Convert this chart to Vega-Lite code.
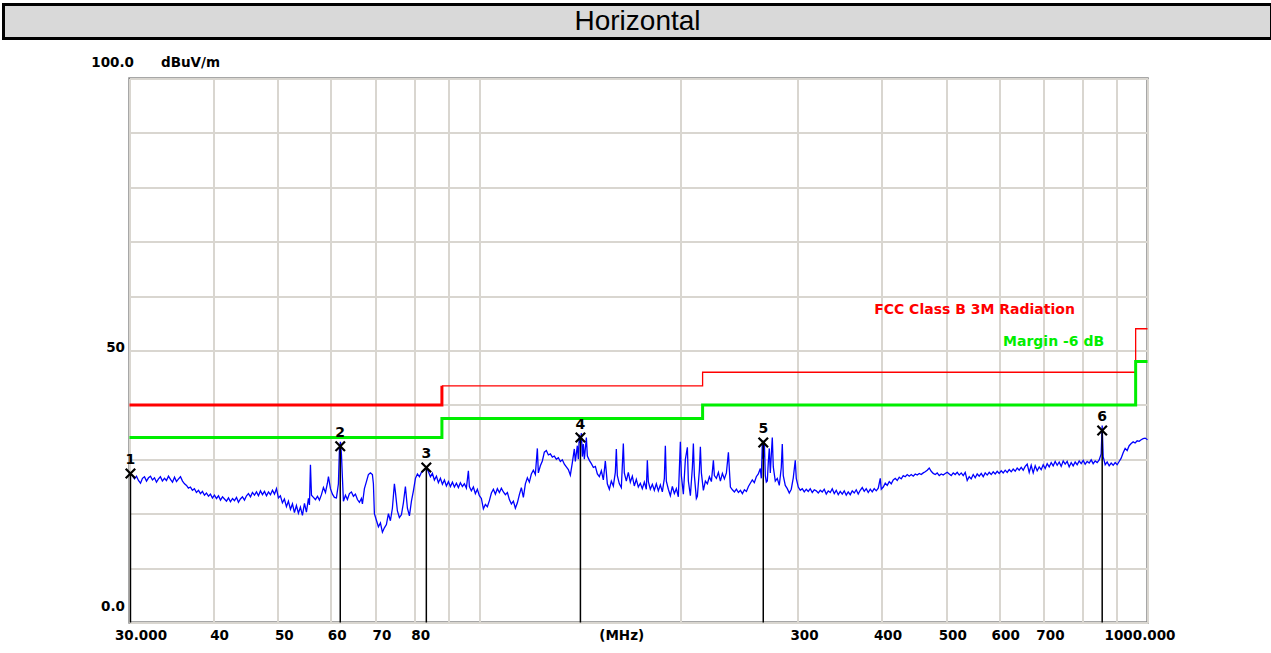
{
 "$schema": "https://vega.github.io/schema/vega-lite/v6.json",
 "background": "white",
 "padding": {"left": 1.5, "top": 2.5, "right": 0, "bottom": 0},
 "bounds": "flush",
 "spacing": 40,
 "config": {"view": {"stroke": null}, "font": "DejaVu Sans"},
 "datasets": {
  "trace": [
{"f":30.1,"v":27.3},{"f":30.31,"v":27.0},{"f":30.52,"v":26.4},{"f":30.73,"v":26.9},{"f":30.94,"v":26.1},{"f":31.16,"v":25.6},{"f":31.37,"v":26.5},{"f":31.59,"v":26.8},{"f":31.81,"v":26.0},{"f":32.03,"v":26.6},{"f":32.25,"v":26.9},{"f":32.47,"v":26.2},{"f":32.7,"v":26.6},{"f":32.92,"v":25.8},{"f":33.15,"v":26.4},{"f":33.37,"v":26.8},{"f":33.6,"v":26.0},{"f":33.84,"v":26.5},{"f":34.07,"v":26.1},{"f":34.31,"v":26.9},{"f":34.55,"v":26.3},{"f":34.79,"v":25.8},{"f":35.03,"v":26.7},{"f":35.27,"v":25.9},{"f":35.52,"v":26.4},{"f":35.76,"v":26.8},{"f":36.01,"v":26.0},{"f":36.26,"v":25.5},{"f":36.51,"v":25.2},{"f":36.75,"v":24.7},
{"f":37.01,"v":24.9},{"f":37.26,"v":24.3},{"f":37.52,"v":24.6},{"f":37.78,"v":23.9},{"f":38.05,"v":24.3},{"f":38.31,"v":23.7},{"f":38.57,"v":24.1},{"f":38.84,"v":23.4},{"f":39.11,"v":23.8},{"f":39.38,"v":23.2},{"f":39.65,"v":23.6},{"f":39.92,"v":22.9},{"f":40.2,"v":23.4},{"f":40.48,"v":22.8},{"f":40.76,"v":23.3},{"f":41.04,"v":22.5},{"f":41.33,"v":23.1},{"f":41.61,"v":22.7},{"f":41.9,"v":22.3},{"f":42.19,"v":22.9},{"f":42.48,"v":22.2},{"f":42.78,"v":22.8},{"f":43.07,"v":22.4},{"f":43.37,"v":23.0},{"f":43.66,"v":22.1},{"f":43.96,"v":22.7},{"f":44.27,"v":23.1},{"f":44.58,"v":22.5},{"f":44.89,"v":23.3},{"f":45.19,"v":23.7},{"f":45.51,"v":23.1},{"f":45.82,"v":23.9},{"f":46.14,"v":23.4},{"f":46.46,"v":24.0},{"f":46.78,"v":23.3},{"f":47.1,"v":24.2},{"f":47.43,"v":23.5},{"f":47.76,"v":24.1},{"f":48.09,"v":23.3},{"f":48.42,"v":24.0},{"f":48.75,"v":23.5},{"f":49.09,"v":24.3},{"f":49.43,"v":23.6},{"f":49.77,"v":24.6},
{"f":50.11,"v":22.9},{"f":50.45,"v":23.3},{"f":50.8,"v":22.0},{"f":51.15,"v":22.7},{"f":51.51,"v":21.3},{"f":51.86,"v":22.3},{"f":52.23,"v":20.8},{"f":52.59,"v":21.8},{"f":52.95,"v":20.2},{"f":53.31,"v":21.5},{"f":53.68,"v":20.1},{"f":54.05,"v":21.2},{"f":54.43,"v":19.7},{"f":54.81,"v":21.9},{"f":55.18,"v":20.3},{"f":55.57,"v":22.8},{"f":55.76,"v":21.6},{"f":55.95,"v":29.0},{"f":56.15,"v":23.4},{"f":56.53,"v":23.0},{"f":56.92,"v":22.6},{"f":57.32,"v":23.2},{"f":57.71,"v":22.5},{"f":58.11,"v":23.5},{"f":58.51,"v":24.8},{"f":58.92,"v":23.9},{"f":59.32,"v":25.6},{"f":59.53,"v":26.8},{"f":59.94,"v":24.6},{"f":60.36,"v":23.6},{"f":60.77,"v":23.0},{"f":61.19,"v":22.9},{"f":61.61,"v":25.5},{"f":61.82,"v":31.5},{"f":62.04,"v":33.2},{"f":62.25,"v":31.0},{"f":62.47,"v":26.5},{"f":62.68,"v":22.3},{"f":63.12,"v":23.4},{"f":63.55,"v":22.6},{"f":63.99,"v":23.7},{"f":64.43,"v":24.0},{"f":64.88,"v":23.2},{"f":65.33,"v":23.6},{"f":65.78,"v":22.6},{"f":66.23,"v":22.1},{"f":66.69,"v":22.8},{"f":66.92,"v":21.8},{"f":67.38,"v":24.6},{"f":67.85,"v":25.9},{"f":68.31,"v":27.2},{"f":68.79,"v":27.5},{"f":69.26,"v":27.2},{"f":69.5,"v":25.5},{"f":69.74,"v":20.0},{"f":70.22,"v":18.8},{"f":70.71,"v":17.6},{"f":71.2,"v":18.3},{"f":71.69,"v":16.6},{"f":72.18,"v":17.4},{"f":72.68,"v":18.0},{"f":73.19,"v":20.0},{"f":73.69,"v":18.7},{"f":74.2,"v":21.0},{"f":74.71,"v":25.5},{"f":74.97,"v":24.0},{"f":75.49,"v":20.5},{"f":76.01,"v":19.3},{"f":76.54,"v":19.8},{"f":77.07,"v":22.0},{"f":77.6,"v":25.0},{"f":78.14,"v":21.0},{"f":78.68,"v":19.6},{"f":79.23,"v":22.3},{"f":79.77,"v":24.2},{"f":80.33,"v":26.5},{"f":80.88,"v":27.3},{"f":81.43,"v":26.8},{"f":82.0,"v":27.6},{"f":82.56,"v":27.9},{"f":83.13,"v":28.2},{"f":83.42,"v":28.5},{"f":84.0,"v":27.7},{"f":84.58,"v":26.8},{"f":85.16,"v":27.4},{"f":85.75,"v":26.2},{"f":86.35,"v":26.9},{"f":86.94,"v":25.7},{"f":87.54,"v":26.5},{"f":88.15,"v":25.4},{"f":88.76,"v":26.2},{"f":89.37,"v":25.1},{"f":89.99,"v":25.9},{"f":90.61,"v":25.0},{"f":91.24,"v":25.8},{"f":91.87,"v":24.9},{"f":92.5,"v":25.6},{"f":93.14,"v":24.8},{"f":93.78,"v":25.7},{"f":94.43,"v":25.0},{"f":95.08,"v":25.5},{"f":95.74,"v":24.7},{"f":96.4,"v":27.9},{"f":96.73,"v":25.0},{"f":97.4,"v":24.2},{"f":98.07,"v":24.9},{"f":98.75,"v":23.7},{"f":99.43,"v":24.5},{"f":100.12,"v":23.3},{"f":100.81,"v":22.8},{"f":101.51,"v":20.9},{"f":102.21,"v":21.7},{"f":102.92,"v":21.3},{"f":103.63,"v":22.4},{"f":104.35,"v":23.8},{"f":105.07,"v":24.5},{"f":105.79,"v":23.6},{"f":106.52,"v":24.6},{"f":107.26,"v":23.9},{"f":108.0,"v":24.7},{"f":108.75,"v":24.0},{"f":109.5,"v":23.5},{"f":110.26,"v":23.9},{"f":111.02,"v":22.6},{"f":111.79,"v":21.8},{"f":112.56,"v":22.3},{"f":113.34,"v":21.0},{"f":114.12,"v":22.0},{"f":114.91,"v":23.5},{"f":115.7,"v":24.8},{"f":116.5,"v":23.0},{"f":117.31,"v":25.5},{"f":118.12,"v":26.6},{"f":118.93,"v":25.8},{"f":119.75,"v":27.3},{"f":120.58,"v":28.0},{"f":121.41,"v":27.2},{"f":122.25,"v":32.0},{"f":122.67,"v":27.5},{"f":123.52,"v":28.8},{"f":124.37,"v":29.7},{"f":125.23,"v":31.3},{"f":126.1,"v":31.6},{"f":126.97,"v":30.8},{"f":127.85,"v":31.0},{"f":128.73,"v":30.4},{"f":129.62,"v":30.6},{"f":130.52,"v":30.0},{"f":131.42,"v":30.3},{"f":132.33,"v":29.6},{"f":133.24,"v":29.9},{"f":134.16,"v":29.1},{"f":135.09,"v":28.6},{"f":136.02,"v":28.1},{"f":136.96,"v":27.1},{"f":137.91,"v":29.4},{"f":138.86,"v":31.9},{"f":139.34,"v":29.6},{"f":140.3,"v":32.5},{"f":140.79,"v":30.0},{"f":141.28,"v":34.5},{"f":141.77,"v":33.0},{"f":142.26,"v":34.8},{"f":142.75,"v":30.5},{"f":143.24,"v":32.8},{"f":143.74,"v":30.0},{"f":144.23,"v":32.0},{"f":144.73,"v":34.0},{"f":145.23,"v":30.6},{"f":146.23,"v":29.8},{"f":147.24,"v":29.2},{"f":148.26,"v":28.5},{"f":149.29,"v":28.7},{"f":150.32,"v":27.3},{"f":151.35,"v":26.8},{"f":152.4,"v":27.9},{"f":153.45,"v":26.2},{"f":154.51,"v":29.7},{"f":155.58,"v":25.5},{"f":156.65,"v":24.5},{"f":157.73,"v":26.0},{"f":158.82,"v":25.1},{"f":159.92,"v":27.6},{"f":160.47,"v":31.9},{"f":161.03,"v":27.0},{"f":162.14,"v":25.5},{"f":163.26,"v":24.8},{"f":164.39,"v":32.9},{"f":164.95,"v":27.5},{"f":166.09,"v":26.0},{"f":167.24,"v":27.6},{"f":168.4,"v":25.8},{"f":169.56,"v":26.9},{"f":170.73,"v":25.1},{"f":171.91,"v":26.3},{"f":173.1,"v":24.9},{"f":174.3,"v":25.6},{"f":175.5,"v":24.6},{"f":176.72,"v":25.8},{"f":177.94,"v":24.5},{"f":178.56,"v":29.8},{"f":179.17,"v":25.9},{"f":180.41,"v":24.5},{"f":181.66,"v":25.4},{"f":182.92,"v":24.3},{"f":184.18,"v":25.5},{"f":185.46,"v":24.2},{"f":186.74,"v":25.3},{"f":188.03,"v":24.0},{"f":189.33,"v":26.5},{"f":189.99,"v":32.5},{"f":190.64,"v":26.0},{"f":191.96,"v":24.5},{"f":193.29,"v":23.3},{"f":194.63,"v":25.0},{"f":195.97,"v":23.7},{"f":197.33,"v":24.6},{"f":198.69,"v":23.1},{"f":200.07,"v":33.2},{"f":200.76,"v":27.0},{"f":202.15,"v":23.6},{"f":203.55,"v":30.0},{"f":204.96,"v":32.2},{"f":205.66,"v":26.0},{"f":207.09,"v":23.3},{"f":208.52,"v":28.5},{"f":209.24,"v":32.9},{"f":209.96,"v":27.0},{"f":211.41,"v":22.8},{"f":212.14,"v":23.2},{"f":213.61,"v":28.0},{"f":214.35,"v":32.3},{"f":215.09,"v":27.5},{"f":216.58,"v":24.3},{"f":218.08,"v":26.0},{"f":219.59,"v":25.5},{"f":221.11,"v":26.8},{"f":222.64,"v":25.9},{"f":224.18,"v":29.8},{"f":224.95,"v":27.0},{"f":226.51,"v":26.5},{"f":228.08,"v":27.6},{"f":229.65,"v":26.0},{"f":231.24,"v":27.4},{"f":232.84,"v":26.4},{"f":234.45,"v":27.5},{"f":236.08,"v":31.3},{"f":236.89,"v":28.0},{"f":237.71,"v":24.9},{"f":239.35,"v":24.4},{"f":241.01,"v":24.0},{"f":242.68,"v":24.5},{"f":244.36,"v":23.9},{"f":246.05,"v":24.3},{"f":247.75,"v":23.7},{"f":249.46,"v":24.4},{"f":251.19,"v":24.1},{"f":252.93,"v":25.0},{"f":254.57,"v":25.6},{"f":256.33,"v":26.2},{"f":258.1,"v":25.7},{"f":259.89,"v":26.8},{"f":261.68,"v":27.3},{"f":263.49,"v":28.3},{"f":264.4,"v":26.5},{"f":265.31,"v":32.8},{"f":266.23,"v":30.0},{"f":267.15,"v":33.5},{"f":268.07,"v":27.0},{"f":269.0,"v":25.8},{"f":269.93,"v":26.0},{"f":270.86,"v":29.5},{"f":271.78,"v":32.0},{"f":272.72,"v":27.5},{"f":273.66,"v":30.8},{"f":274.6,"v":34.0},{"f":275.55,"v":28.6},{"f":277.45,"v":26.0},{"f":279.37,"v":26.5},{"f":281.3,"v":25.2},{"f":283.24,"v":28.5},{"f":284.22,"v":32.8},{"f":285.2,"v":27.0},{"f":287.17,"v":25.2},{"f":289.16,"v":24.6},{"f":291.15,"v":23.8},{"f":293.16,"v":24.5},{"f":295.18,"v":26.6},{"f":297.22,"v":29.8},{"f":298.25,"v":26.5},{"f":300.31,"v":24.9},{"f":302.39,"v":24.3},
{"f":304.47,"v":24.6},{"f":306.58,"v":24.0},{"f":308.69,"v":24.5},{"f":310.83,"v":24.1},{"f":312.97,"v":24.6},{"f":315.13,"v":23.9},{"f":317.31,"v":24.4},{"f":319.5,"v":24.2},{"f":321.71,"v":23.8},{"f":323.94,"v":24.3},{"f":326.17,"v":24.0},{"f":328.42,"v":24.5},{"f":330.69,"v":23.6},{"f":332.98,"v":24.2},{"f":335.3,"v":23.9},{"f":337.6,"v":24.6},{"f":339.93,"v":23.7},{"f":342.28,"v":24.3},{"f":344.65,"v":23.5},{"f":347.03,"v":24.1},{"f":349.42,"v":23.6},{"f":351.84,"v":24.2},{"f":354.27,"v":23.4},{"f":356.71,"v":24.0},{"f":359.18,"v":23.5},{"f":361.66,"v":24.2},{"f":364.16,"v":23.8},{"f":366.67,"v":24.4},{"f":369.2,"v":23.6},{"f":371.78,"v":24.3},{"f":374.35,"v":24.8},{"f":376.93,"v":24.1},{"f":379.53,"v":24.6},{"f":382.16,"v":23.9},{"f":384.81,"v":24.5},{"f":387.46,"v":24.0},{"f":390.13,"v":24.6},{"f":392.82,"v":24.2},{"f":395.55,"v":24.7},{"f":398.31,"v":26.5},{"f":399.69,"v":24.5},{"f":402.45,"v":24.9},{"f":405.23,"v":25.6},{"f":408.02,"v":25.2},{"f":410.83,"v":25.9},{"f":413.67,"v":25.5},{"f":416.52,"v":26.2},{"f":419.4,"v":26.5},{"f":422.29,"v":26.1},{"f":425.23,"v":26.7},{"f":428.17,"v":26.4},{"f":431.12,"v":27.0},{"f":434.1,"v":26.8},{"f":437.1,"v":27.2},{"f":440.12,"v":26.9},{"f":443.16,"v":27.2},{"f":446.22,"v":26.9},{"f":449.3,"v":27.3},{"f":452.4,"v":27.1},{"f":455.54,"v":27.4},{"f":458.68,"v":27.2},{"f":461.84,"v":27.5},{"f":465.03,"v":27.7},{"f":468.24,"v":28.0},{"f":471.5,"v":28.4},{"f":474.75,"v":27.8},{"f":478.03,"v":27.4},{"f":481.33,"v":27.2},{"f":484.65,"v":27.5},{"f":488.02,"v":27.0},{"f":491.39,"v":27.3},{"f":494.78,"v":27.1},{"f":498.19,"v":27.4},{"f":501.63,"v":27.6},{"f":505.12,"v":27.3},{"f":508.61,"v":27.0},{"f":512.12,"v":27.5},{"f":515.65,"v":27.2},{"f":519.21,"v":27.6},{"f":522.82,"v":27.1},{"f":526.43,"v":27.5},{"f":530.06,"v":27.0},{"f":533.72,"v":27.6},{"f":537.4,"v":26.1},{"f":541.13,"v":26.8},{"f":544.87,"v":26.4},{"f":548.63,"v":27.2},{"f":552.41,"v":26.6},{"f":556.22,"v":27.3},{"f":560.09,"v":26.9},{"f":563.96,"v":27.4},{"f":567.85,"v":26.8},{"f":571.77,"v":27.5},{"f":575.71,"v":27.1},{"f":579.71,"v":27.6},{"f":583.71,"v":27.2},{"f":587.74,"v":27.7},{"f":591.8,"v":27.3},{"f":595.88,"v":27.8},{"f":600.02,"v":27.4},{"f":604.16,"v":27.9},{"f":608.33,"v":27.5},{"f":612.53,"v":28.0},{"f":616.76,"v":27.6},{"f":621.04,"v":28.1},{"f":625.33,"v":27.7},{"f":629.64,"v":28.2},{"f":633.99,"v":27.8},{"f":638.36,"v":28.4},{"f":642.8,"v":28.0},{"f":647.24,"v":28.5},{"f":651.71,"v":28.0},{"f":656.21,"v":28.7},{"f":660.74,"v":29.1},{"f":665.32,"v":27.6},{"f":669.92,"v":28.9},{"f":674.54,"v":27.5},{"f":679.2,"v":28.8},{"f":683.89,"v":27.9},{"f":688.63,"v":28.6},{"f":693.39,"v":28.1},{"f":698.17,"v":29.0},{"f":702.99,"v":28.3},{"f":707.84,"v":29.2},{"f":712.76,"v":28.6},{"f":717.68,"v":29.4},{"f":722.63,"v":28.8},{"f":727.62,"v":29.6},{"f":732.65,"v":28.9},{"f":737.73,"v":29.5},{"f":742.82,"v":28.7},{"f":747.94,"v":29.7},{"f":753.11,"v":29.1},{"f":758.3,"v":29.6},{"f":763.57,"v":28.6},{"f":768.84,"v":29.4},{"f":774.15,"v":28.8},{"f":779.49,"v":29.5},{"f":784.87,"v":29.0},{"f":790.32,"v":29.7},{"f":795.78,"v":29.2},{"f":801.27,"v":29.8},{"f":806.8,"v":29.1},{"f":812.37,"v":29.6},{"f":818.01,"v":29.3},{"f":823.66,"v":29.9},{"f":829.34,"v":29.2},{"f":835.06,"v":29.7},{"f":840.83,"v":29.4},{"f":846.67,"v":29.9},{"f":852.52,"v":31.0},{"f":855.46,"v":36.2},{"f":858.41,"v":30.5},{"f":864.34,"v":29.0},{"f":870.3,"v":29.5},{"f":876.33,"v":28.8},{"f":882.38,"v":29.3},{"f":888.47,"v":28.9},{"f":894.6,"v":29.4},{"f":900.78,"v":29.0},{"f":907.03,"v":29.6},{"f":913.29,"v":30.2},{"f":919.6,"v":31.2},{"f":925.94,"v":32.0},{"f":932.33,"v":31.6},{"f":938.81,"v":32.5},{"f":945.29,"v":32.9},{"f":951.82,"v":33.2},{"f":958.38,"v":33.0},{"f":965.0,"v":33.4},{"f":971.7,"v":33.3},{"f":978.41,"v":33.6},{"f":985.17,"v":33.8},{"f":991.97,"v":33.9},{"f":1000,"v":33.6}
  ],
  "limits": [
   {"f":30,"v":40,"s":"FCC"},{"f":88,"v":43.5,"s":"FCC"},{"f":216,"v":46,"s":"FCC"},{"f":960,"v":54,"s":"FCC"},{"f":1000,"v":54,"s":"FCC"},
   {"f":30,"v":34,"s":"Margin"},{"f":88,"v":37.5,"s":"Margin"},{"f":216,"v":40,"s":"Margin"},{"f":960,"v":48,"s":"Margin"},{"f":1000,"v":48,"s":"Margin"}
  ],
  "markers": [
   {"n":"1","f":30.1,"v":27.4},{"n":"2","f":62.0,"v":32.4},{"n":"3","f":83.4,"v":28.5},
   {"n":"4","f":141.8,"v":34.0},{"n":"5","f":266.2,"v":33.1},{"n":"6","f":855.5,"v":35.3}
  ],
  "notes": [
   {"f":390,"v":57.4,"s":"FCC","label":"FCC Class B 3M Radiation"},
   {"f":608,"v":51.5,"s":"Margin","label":"Margin -6 dB"}
  ],
  "header": [{"t":"Horizontal"}],
  "empty": []
 },
 "vconcat": [
  {
   "width": 1268, "height": 34,
   "view": {"fill": "#d9d9d9", "stroke": "#000000", "strokeWidth": 3},
   "data": {"name": "header"},
   "mark": {"type": "text", "font": "Liberation Sans", "fontSize": 28, "color": "#000000"},
   "encoding": {"text": {"field": "t"}}
  },
  {
   "bounds": "flush",
   "spacing": 0,
   "hconcat": [
    {
     "width": 126, "height": 544,
     "view": {"stroke": null},
     "data": {"name": "empty"},
     "mark": "point"
    },
    {
     "width": 1018, "height": 544,
     "view": {"stroke": "#8a8a8a", "strokeWidth": 2.5, "fill": "white"},
     "encoding": {
      "x": {"field": "f", "type": "quantitative",
       "scale": {"type": "log", "domain": [30, 1000], "nice": false},
       "axis": {
        "values": [30, 40, 50, 60, 70, 80, 90, 100, 163.2, 200, 300, 400, 500, 600, 700, 800, 900, 1000],
        "labelExpr": "datum.value == 30 ? '30.000' : datum.value == 1000 ? '1000.000' : (datum.value > 160 && datum.value < 170) ? '(MHz)' : (datum.value == 90 || datum.value == 100 || datum.value == 200 || datum.value == 800 || datum.value == 900) ? '' : '' + datum.value",
        "domain": false, "ticks": false,
        "grid": true, "gridWidth": 2,
        "gridColor": {"condition": {"test": "datum.value > 160 && datum.value < 170", "value": "transparent"}, "value": "#d9d6d0"},
        "labelPadding": 6, "labelBaseline": "top", "labelAlign": "center",
        "labelOffset": {"condition": [{"test": "datum.value == 30", "value": 11}, {"test": "datum.value == 1000", "value": -8}, {"test": "datum.value > 160 && datum.value < 170", "value": 0}], "value": 6},
        "labelFont": "DejaVu Sans", "labelFontWeight": "bold", "labelFontSize": 13.5, "labelColor": "#000000",
        "labelFlush": false, "labelOverlap": false, "labelBound": false,
        "title": null
       }
      },
      "y": {"field": "v", "type": "quantitative",
       "scale": {"domain": [0, 100], "nice": false, "zero": false},
       "axis": {
        "values": [0, 10, 20, 30, 40, 50, 60, 70, 80, 90, 100],
        "labelExpr": "datum.value == 100 ? '100.0' : datum.value == 0 ? '0.0' : datum.value == 50 ? '50' : ''",
        "domain": false, "ticks": false,
        "grid": true, "gridWidth": 2, "gridColor": "#d9d6d0",
        "labelAlign": "right", "labelBaseline": "middle",
        "labelPadding": {"condition": {"test": "datum.value == 100", "value": -4}, "value": 5},
        "labelOffset": {"condition": {"test": "datum.value == 50", "value": -3}, "value": -16},
        "labelFont": "DejaVu Sans", "labelFontWeight": "bold", "labelFontSize": 13.5, "labelColor": "#000000",
        "labelFlush": false, "labelOverlap": false, "labelBound": false,
        "title": "dBuV/m", "titleAngle": 0, "titleX": 31, "titleY": -16, "titleAlign": "left", "titleBaseline": "middle",
        "titleFont": "DejaVu Sans", "titleFontWeight": "bold", "titleFontSize": 13.5, "titleColor": "#000000"
       }
      }
     },
     "layer": [
      {
       "data": {"name": "limits"},
       "transform": [{"filter": "datum.s == 'FCC' && datum.f <= 88"}],
       "mark": {"type": "line", "interpolate": "step-after", "color": "#ff0000", "strokeWidth": 3}
      },
      {
       "data": {"name": "limits"},
       "transform": [{"filter": "datum.s == 'FCC' && datum.f >= 88"}],
       "mark": {"type": "line", "interpolate": "step-after", "color": "#ff0000", "strokeWidth": 1.3}
      },
      {
       "data": {"name": "limits"},
       "transform": [{"filter": "datum.s == 'Margin'"}],
       "mark": {"type": "line", "interpolate": "step-after", "color": "#00ee00", "strokeWidth": 3}
      },
      {
       "data": {"name": "trace"},
       "mark": {"type": "line", "color": "#0000ff", "strokeWidth": 1.3}
      },
      {
       "data": {"name": "markers"},
       "mark": {"type": "rule", "color": "#000000", "strokeWidth": 1.5},
       "encoding": {"y": {"datum": 0}, "y2": {"field": "v"}}
      },
      {
       "data": {"name": "markers"},
       "mark": {"type": "point", "shape": "M-1,-1L1,1M-1,1L1,-1", "filled": false, "stroke": "#000000", "strokeWidth": 2.2, "size": 90, "opacity": 1}
      },
      {
       "data": {"name": "markers"},
       "mark": {"type": "text", "dy": -13, "font": "DejaVu Sans", "fontWeight": "bold", "fontSize": 14, "color": "#000000"},
       "encoding": {"text": {"field": "n"}}
      },
      {
       "data": {"name": "notes"},
       "mark": {"type": "text", "align": "left", "baseline": "middle", "font": "DejaVu Sans", "fontWeight": "bold", "fontSize": 14},
       "encoding": {
        "text": {"field": "label"},
        "color": {"field": "s", "type": "nominal", "scale": {"domain": ["FCC", "Margin"], "range": ["#ff0000", "#00ee00"]}, "legend": null}
       }
      }
     ]
    }
   ]
  }
 ]
}
